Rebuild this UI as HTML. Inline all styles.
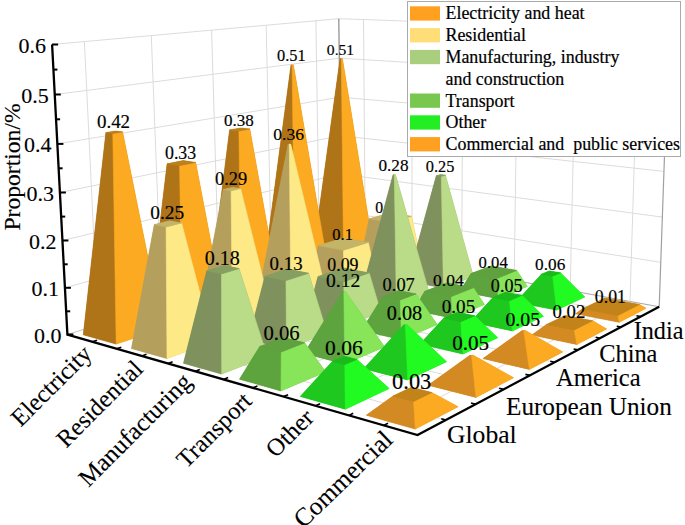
<!DOCTYPE html>
<html><head><meta charset="utf-8"><style>
html,body{margin:0;padding:0;background:#fff;overflow:hidden;}
svg{display:block;}
text{font-family:"Liberation Serif",serif;fill:#000;stroke:#000;stroke-width:0.18px;}
.v{font-size:19px;text-anchor:middle;}
.ax{font-size:22px;stroke-width:0.12px;}
.cat{font-size:24.5px;stroke-width:0.12px;}
.rg{font-size:24.4px;stroke-width:0.12px;}
.lg{font-size:17.9px;stroke-width:0.2px;}
</style></head><body>
<svg width="685" height="525" viewBox="0 0 685 525">
<line x1="64.9" y1="287.8" x2="341.1" y2="211.6" stroke="#dcdcdc" stroke-width="1"/>
<line x1="341.1" y1="211.6" x2="660.7" y2="262.3" stroke="#dcdcdc" stroke-width="1"/>
<line x1="62.4" y1="240.5" x2="340.6" y2="173.9" stroke="#dcdcdc" stroke-width="1"/>
<line x1="340.6" y1="173.9" x2="662.3" y2="217.1" stroke="#dcdcdc" stroke-width="1"/>
<line x1="59.9" y1="192.5" x2="340.2" y2="135.7" stroke="#dcdcdc" stroke-width="1"/>
<line x1="340.2" y1="135.7" x2="663.9" y2="171.4" stroke="#dcdcdc" stroke-width="1"/>
<line x1="57.4" y1="143.9" x2="339.7" y2="97.2" stroke="#dcdcdc" stroke-width="1"/>
<line x1="339.7" y1="97.2" x2="665.6" y2="125.0" stroke="#dcdcdc" stroke-width="1"/>
<line x1="54.8" y1="94.5" x2="339.3" y2="58.2" stroke="#dcdcdc" stroke-width="1"/>
<line x1="339.3" y1="58.2" x2="667.2" y2="78.0" stroke="#dcdcdc" stroke-width="1"/>
<line x1="52.1" y1="44.5" x2="338.8" y2="18.7" stroke="#dcdcdc" stroke-width="1"/>
<line x1="338.8" y1="18.7" x2="668.9" y2="30.3" stroke="#dcdcdc" stroke-width="1"/>
<line x1="98.0" y1="324.9" x2="84.4" y2="41.6" stroke="#dcdcdc" stroke-width="1"/>
<line x1="161.7" y1="305.1" x2="151.3" y2="35.6" stroke="#dcdcdc" stroke-width="1"/>
<line x1="219.2" y1="287.1" x2="211.6" y2="30.1" stroke="#dcdcdc" stroke-width="1"/>
<line x1="271.6" y1="270.7" x2="266.2" y2="25.2" stroke="#dcdcdc" stroke-width="1"/>
<line x1="319.5" y1="255.8" x2="315.9" y2="20.8" stroke="#dcdcdc" stroke-width="1"/>
<line x1="365.4" y1="253.3" x2="363.5" y2="19.6" stroke="#dcdcdc" stroke-width="1"/>
<line x1="412.1" y1="261.8" x2="411.8" y2="21.3" stroke="#dcdcdc" stroke-width="1"/>
<line x1="461.6" y1="270.8" x2="463.1" y2="23.1" stroke="#dcdcdc" stroke-width="1"/>
<line x1="514.2" y1="280.4" x2="517.7" y2="25.0" stroke="#dcdcdc" stroke-width="1"/>
<line x1="570.2" y1="290.6" x2="576.0" y2="27.1" stroke="#dcdcdc" stroke-width="1"/>
<line x1="630.0" y1="301.5" x2="638.4" y2="29.3" stroke="#dcdcdc" stroke-width="1"/>
<line x1="67.4" y1="334.5" x2="341.5" y2="248.9" stroke="#c4c4c4" stroke-width="1"/>
<line x1="341.5" y1="248.9" x2="659.2" y2="306.8" stroke="#a8a8a8" stroke-width="1.1"/>
<line x1="98.0" y1="324.9" x2="445.9" y2="420.1" stroke="#dcdcdc" stroke-width="1"/>
<line x1="161.7" y1="305.1" x2="503.7" y2="389.4" stroke="#dcdcdc" stroke-width="1"/>
<line x1="219.2" y1="287.1" x2="554.7" y2="362.3" stroke="#dcdcdc" stroke-width="1"/>
<line x1="271.6" y1="270.7" x2="600.1" y2="338.2" stroke="#dcdcdc" stroke-width="1"/>
<line x1="319.5" y1="255.8" x2="640.7" y2="316.6" stroke="#dcdcdc" stroke-width="1"/>
<line x1="92.5" y1="341.7" x2="365.4" y2="253.3" stroke="#dcdcdc" stroke-width="1"/>
<line x1="141.9" y1="355.9" x2="412.1" y2="261.8" stroke="#dcdcdc" stroke-width="1"/>
<line x1="195.3" y1="371.3" x2="461.6" y2="270.8" stroke="#dcdcdc" stroke-width="1"/>
<line x1="253.0" y1="387.8" x2="514.2" y2="280.4" stroke="#dcdcdc" stroke-width="1"/>
<line x1="315.6" y1="405.8" x2="570.2" y2="290.6" stroke="#dcdcdc" stroke-width="1"/>
<line x1="383.7" y1="425.4" x2="630.0" y2="301.5" stroke="#dcdcdc" stroke-width="1"/>
<line x1="341.5" y1="248.9" x2="338.8" y2="18.7" stroke="#8a8a8a" stroke-width="1.2"/>
<line x1="659.2" y1="306.8" x2="668.9" y2="30.3" stroke="#a0a0a0" stroke-width="1.2"/>
<polygon points="311.9,262.5 343.7,268.7 374.9,258.3 342.4,58.5 340.1,58.6" fill="#b07418"/><polygon points="311.9,262.5 343.7,268.7 341.3,58.7 340.1,58.6" fill="#b07418" stroke="#b07418" stroke-width="0.6" stroke-linejoin="round"/><polygon points="343.7,268.7 374.9,258.3 342.4,58.5 341.3,58.7" fill="#fcaa22" stroke="#fcaa22" stroke-width="0.6" stroke-linejoin="round"/>
<text x="340.5" y="55.0" class="v" style="font-size:15.62px">0.51</text>
<polygon points="262.7,278.0 294.9,284.9 329.1,273.5 293.4,64.8 291.0,64.9" fill="#b07418"/><polygon points="262.7,278.0 294.9,284.9 292.1,65.0 291.0,64.9" fill="#b07418" stroke="#b07418" stroke-width="0.6" stroke-linejoin="round"/><polygon points="294.9,284.9 329.1,273.5 293.4,64.8 292.1,65.0" fill="#fcaa22" stroke="#fcaa22" stroke-width="0.6" stroke-linejoin="round"/>
<text x="291.4" y="61.1" class="v" style="font-size:16.36px">0.51</text>
<polygon points="358.3,271.5 392.0,278.1 422.7,267.1 411.5,216.2 389.6,212.9 369.2,218.8" fill="#b59f5d"/><polygon points="358.3,271.5 392.0,278.1 391.3,222.3 369.2,218.8" fill="#b59f5d" stroke="#b59f5d" stroke-width="0.6" stroke-linejoin="round"/><polygon points="392.0,278.1 422.7,267.1 411.5,216.2 391.3,222.3" fill="#fdea86" stroke="#fdea86" stroke-width="0.6" stroke-linejoin="round"/><polygon points="369.2,218.8 391.3,222.3 411.5,216.2 389.6,212.9" fill="#c3b467" stroke="#c3b467" stroke-width="0.6" stroke-linejoin="round"/>
<text x="385.1" y="212.9" class="v" style="font-size:15.74px">0.1</text>
<polygon points="208.7,295.1 241.2,302.7 278.8,290.2 249.8,129.0 240.5,128.0 229.6,129.9" fill="#b07418"/><polygon points="208.7,295.1 241.2,302.7 238.9,131.0 229.6,129.9" fill="#b07418" stroke="#b07418" stroke-width="0.6" stroke-linejoin="round"/><polygon points="241.2,302.7 278.8,290.2 249.8,129.0 238.9,131.0" fill="#fcaa22" stroke="#fcaa22" stroke-width="0.6" stroke-linejoin="round"/><polygon points="229.6,129.9 238.9,131.0 249.8,129.0 240.5,128.0" fill="#bd801a" stroke="#bd801a" stroke-width="0.6" stroke-linejoin="round"/>
<text x="238.9" y="125.5" class="v" style="font-size:17.03px">0.38</text>
<polygon points="407.5,281.1 443.4,288.1 473.4,276.4 445.5,175.2 440.5,174.6 436.3,175.7" fill="#7f925d"/><polygon points="407.5,281.1 443.4,288.1 441.3,176.3 436.3,175.7" fill="#7f925d" stroke="#7f925d" stroke-width="0.6" stroke-linejoin="round"/><polygon points="443.4,288.1 473.4,276.4 445.5,175.2 441.3,176.3" fill="#badb88" stroke="#badb88" stroke-width="0.6" stroke-linejoin="round"/><polygon points="436.3,175.7 441.3,176.3 445.5,175.2 440.5,174.6" fill="#869e62" stroke="#869e62" stroke-width="0.6" stroke-linejoin="round"/>
<text x="440.1" y="171.7" class="v" style="font-size:16.35px">0.25</text>
<polygon points="309.7,288.0 344.0,295.2 377.6,283.2 368.3,242.4 343.3,238.1 318.3,245.6" fill="#b59f5d"/><polygon points="309.7,288.0 344.0,295.2 343.5,250.2 318.3,245.6" fill="#b59f5d" stroke="#b59f5d" stroke-width="0.6" stroke-linejoin="round"/><polygon points="344.0,295.2 377.6,283.2 368.3,242.4 343.5,250.2" fill="#fdea86" stroke="#fdea86" stroke-width="0.6" stroke-linejoin="round"/><polygon points="318.3,245.6 343.5,250.2 368.3,242.4 343.3,238.1" fill="#c3b467" stroke="#c3b467" stroke-width="0.6" stroke-linejoin="round"/>
<text x="342.6" y="240.2" class="v" style="font-size:16.46px">0.1</text>
<polygon points="149.2,313.9 182.0,322.3 223.6,308.5 195.7,162.4 183.2,160.6 167.1,163.8" fill="#b07418"/><polygon points="149.2,313.9 182.0,322.3 179.6,165.6 167.1,163.8" fill="#b07418" stroke="#b07418" stroke-width="0.6" stroke-linejoin="round"/><polygon points="182.0,322.3 223.6,308.5 195.7,162.4 179.6,165.6" fill="#fcaa22" stroke="#fcaa22" stroke-width="0.6" stroke-linejoin="round"/><polygon points="167.1,163.8 179.6,165.6 195.7,162.4 183.2,160.6" fill="#bd801a" stroke="#bd801a" stroke-width="0.6" stroke-linejoin="round"/>
<text x="180.6" y="159.0" class="v" style="font-size:17.85px">0.33</text>
<polygon points="460.0,291.3 498.2,298.7 527.3,286.4 516.8,270.4 491.1,265.9 471.0,273.6" fill="#5da33e"/><polygon points="460.0,291.3 498.2,298.7 496.9,278.4 471.0,273.6" fill="#5da33e" stroke="#5da33e" stroke-width="0.6" stroke-linejoin="round"/><polygon points="498.2,298.7 527.3,286.4 516.8,270.4 496.9,278.4" fill="#88e55a" stroke="#88e55a" stroke-width="0.6" stroke-linejoin="round"/><polygon points="471.0,273.6 496.9,278.4 516.8,270.4 491.1,265.9" fill="#5fa03f" stroke="#5fa03f" stroke-width="0.6" stroke-linejoin="round"/>
<text x="493.2" y="268.2" class="v" style="font-size:16.66px">0.04</text>
<polygon points="256.3,306.1 291.0,314.2 328.2,300.9 290.7,144.1 288.1,144.2" fill="#b59f5d"/><polygon points="256.3,306.1 291.0,314.2 289.3,144.3 288.1,144.2" fill="#b59f5d" stroke="#b59f5d" stroke-width="0.6" stroke-linejoin="round"/><polygon points="291.0,314.2 328.2,300.9 290.7,144.1 289.3,144.3" fill="#fdea86" stroke="#fdea86" stroke-width="0.6" stroke-linejoin="round"/>
<text x="288.6" y="140.1" class="v" style="font-size:17.58px">0.36</text>
<polygon points="359.8,298.6 396.4,306.3 429.4,293.5 395.5,174.6 393.1,174.7" fill="#7f925d"/><polygon points="359.8,298.6 396.4,306.3 394.3,174.9 393.1,174.7" fill="#7f925d" stroke="#7f925d" stroke-width="0.6" stroke-linejoin="round"/><polygon points="396.4,306.3 429.4,293.5 395.5,174.6 394.3,174.9" fill="#badb88" stroke="#badb88" stroke-width="0.6" stroke-linejoin="round"/>
<text x="393.5" y="170.7" class="v" style="font-size:17.20px">0.28</text>
<polygon points="83.3,334.8 116.2,344.1 162.4,328.8 122.6,131.9 115.7,131.0 105.9,132.6" fill="#b07418"/><polygon points="83.3,334.8 116.2,344.1 112.8,133.5 105.9,132.6" fill="#b07418" stroke="#b07418" stroke-width="0.6" stroke-linejoin="round"/><polygon points="116.2,344.1 162.4,328.8 122.6,131.9 112.8,133.5" fill="#fcaa22" stroke="#fcaa22" stroke-width="0.6" stroke-linejoin="round"/><polygon points="105.9,132.6 112.8,133.5 122.6,131.9 115.7,131.0" fill="#bd801a" stroke="#bd801a" stroke-width="0.6" stroke-linejoin="round"/>
<text x="113.5" y="127.9" class="v" style="font-size:18.95px">0.42</text>
<polygon points="515.9,302.2 556.7,310.1 584.8,297.0 560.5,272.8 549.3,270.9 541.4,274.2" fill="#1ec81e"/><polygon points="515.9,302.2 556.7,310.1 552.7,276.2 541.4,274.2" fill="#1ec81e" stroke="#1ec81e" stroke-width="0.6" stroke-linejoin="round"/><polygon points="556.7,310.1 584.8,297.0 560.5,272.8 552.7,276.2" fill="#22fb22" stroke="#22fb22" stroke-width="0.6" stroke-linejoin="round"/><polygon points="541.4,274.2 552.7,276.2 560.5,272.8 549.3,270.9" fill="#19ba19" stroke="#19ba19" stroke-width="0.6" stroke-linejoin="round"/>
<text x="550.2" y="269.5" class="v" style="font-size:17.24px">0.06</text>
<polygon points="197.2,326.2 232.4,335.2 273.5,320.4 240.6,188.6 232.6,187.4 223.2,189.5" fill="#b59f5d"/><polygon points="197.2,326.2 232.4,335.2 231.1,190.8 223.2,189.5" fill="#b59f5d" stroke="#b59f5d" stroke-width="0.6" stroke-linejoin="round"/><polygon points="232.4,335.2 273.5,320.4 240.6,188.6 231.1,190.8" fill="#fdea86" stroke="#fdea86" stroke-width="0.6" stroke-linejoin="round"/><polygon points="223.2,189.5 231.1,190.8 240.6,188.6 232.6,187.4" fill="#c3b467" stroke="#c3b467" stroke-width="0.6" stroke-linejoin="round"/>
<text x="231.1" y="184.8" class="v" style="font-size:18.44px">0.29</text>
<polygon points="413.3,309.9 452.4,318.2 484.5,304.5 473.3,287.8 447.1,282.8 424.8,291.3" fill="#5da33e"/><polygon points="413.3,309.9 452.4,318.2 451.4,296.6 424.8,291.3" fill="#5da33e" stroke="#5da33e" stroke-width="0.6" stroke-linejoin="round"/><polygon points="452.4,318.2 484.5,304.5 473.3,287.8 451.4,296.6" fill="#88e55a" stroke="#88e55a" stroke-width="0.6" stroke-linejoin="round"/><polygon points="424.8,291.3 451.4,296.6 473.3,287.8 447.1,282.8" fill="#5fa03f" stroke="#5fa03f" stroke-width="0.6" stroke-linejoin="round"/>
<text x="448.4" y="285.6" class="v" style="font-size:17.51px">0.04</text>
<polygon points="307.1,317.9 344.3,326.5 380.8,312.3 369.2,272.9 343.7,268.0 318.0,276.5" fill="#7f925d"/><polygon points="307.1,317.9 344.3,326.5 343.8,281.7 318.0,276.5" fill="#7f925d" stroke="#7f925d" stroke-width="0.6" stroke-linejoin="round"/><polygon points="344.3,326.5 380.8,312.3 369.2,272.9 343.8,281.7" fill="#badb88" stroke="#badb88" stroke-width="0.6" stroke-linejoin="round"/><polygon points="318.0,276.5 343.8,281.7 369.2,272.9 343.7,268.0" fill="#869e62" stroke="#869e62" stroke-width="0.6" stroke-linejoin="round"/>
<text x="342.9" y="270.6" class="v" style="font-size:17.87px">0.09</text>
<polygon points="575.6,313.8 619.3,322.3 646.1,308.3 639.5,304.4 604.9,298.0 582.6,308.8" fill="#d48a22"/><polygon points="575.6,313.8 619.3,322.3 617.8,315.5 582.6,308.8" fill="#d48a22" stroke="#d48a22" stroke-width="0.6" stroke-linejoin="round"/><polygon points="619.3,322.3 646.1,308.3 639.5,304.4 617.8,315.5" fill="#fbaa22" stroke="#fbaa22" stroke-width="0.6" stroke-linejoin="round"/><polygon points="582.6,308.8 617.8,315.5 639.5,304.4 604.9,298.0" fill="#c1831a" stroke="#c1831a" stroke-width="0.6" stroke-linejoin="round"/>
<text x="610.4" y="302.5" class="v" style="font-size:17.77px">0.01</text>
<polygon points="131.5,348.5 167.0,358.6 212.9,342.1 181.6,223.0 169.8,220.8 154.3,224.6" fill="#b59f5d"/><polygon points="131.5,348.5 167.0,358.6 166.1,226.9 154.3,224.6" fill="#b59f5d" stroke="#b59f5d" stroke-width="0.6" stroke-linejoin="round"/><polygon points="167.0,358.6 212.9,342.1 181.6,223.0 166.1,226.9" fill="#fdea86" stroke="#fdea86" stroke-width="0.6" stroke-linejoin="round"/><polygon points="154.3,224.6 166.1,226.9 181.6,223.0 169.8,220.8" fill="#c3b467" stroke="#c3b467" stroke-width="0.6" stroke-linejoin="round"/>
<text x="167.2" y="219.3" class="v" style="font-size:19.42px">0.25</text>
<polygon points="470.5,322.0 512.4,330.9 543.5,316.3 522.0,295.3 505.5,292.2 492.9,297.5" fill="#1ec81e"/><polygon points="470.5,322.0 512.4,330.9 509.5,300.7 492.9,297.5" fill="#1ec81e" stroke="#1ec81e" stroke-width="0.6" stroke-linejoin="round"/><polygon points="512.4,330.9 543.5,316.3 522.0,295.3 509.5,300.7" fill="#22fb22" stroke="#22fb22" stroke-width="0.6" stroke-linejoin="round"/><polygon points="492.9,297.5 509.5,300.7 522.0,295.3 505.5,292.2" fill="#19ba19" stroke="#19ba19" stroke-width="0.6" stroke-linejoin="round"/>
<text x="506.7" y="292.2" class="v" style="font-size:18.13px">0.05</text>
<polygon points="248.7,339.3 286.5,349.0 327.1,333.2 308.7,273.2 287.8,269.0 265.0,276.2" fill="#7f925d"/><polygon points="248.7,339.3 286.5,349.0 286.0,280.6 265.0,276.2" fill="#7f925d" stroke="#7f925d" stroke-width="0.6" stroke-linejoin="round"/><polygon points="286.5,349.0 327.1,333.2 308.7,273.2 286.0,280.6" fill="#badb88" stroke="#badb88" stroke-width="0.6" stroke-linejoin="round"/><polygon points="265.0,276.2 286.0,280.6 308.7,273.2 287.8,269.0" fill="#869e62" stroke="#869e62" stroke-width="0.6" stroke-linejoin="round"/>
<text x="286.1" y="270.3" class="v" style="font-size:18.90px">0.13</text>
<polygon points="361.6,330.5 401.5,339.8 437.2,324.6 416.1,293.9 398.7,290.4 382.9,296.3" fill="#5da33e"/><polygon points="361.6,330.5 401.5,339.8 400.3,299.9 382.9,296.3" fill="#5da33e" stroke="#5da33e" stroke-width="0.6" stroke-linejoin="round"/><polygon points="401.5,339.8 437.2,324.6 416.1,293.9 400.3,299.9" fill="#88e55a" stroke="#88e55a" stroke-width="0.6" stroke-linejoin="round"/><polygon points="382.9,296.3 400.3,299.9 416.1,293.9 398.7,290.4" fill="#5fa03f" stroke="#5fa03f" stroke-width="0.6" stroke-linejoin="round"/>
<text x="398.7" y="290.8" class="v" style="font-size:18.48px">0.07</text>
<polygon points="531.8,335.0 576.9,344.5 606.7,328.9 592.6,320.7 565.4,315.4 546.6,324.4" fill="#d48a22"/><polygon points="531.8,335.0 576.9,344.5 574.2,330.0 546.6,324.4" fill="#d48a22" stroke="#d48a22" stroke-width="0.6" stroke-linejoin="round"/><polygon points="576.9,344.5 606.7,328.9 592.6,320.7 574.2,330.0" fill="#fbaa22" stroke="#fbaa22" stroke-width="0.6" stroke-linejoin="round"/><polygon points="546.6,324.4 574.2,330.0 592.6,320.7 565.4,315.4" fill="#c1831a" stroke="#c1831a" stroke-width="0.6" stroke-linejoin="round"/>
<text x="568.9" y="318.2" class="v" style="font-size:18.75px">0.02</text>
<polygon points="183.5,363.2 221.7,374.1 267.2,356.4 239.1,268.6 224.5,265.5 206.8,270.7" fill="#7f925d"/><polygon points="183.5,363.2 221.7,374.1 221.5,273.9 206.8,270.7" fill="#7f925d" stroke="#7f925d" stroke-width="0.6" stroke-linejoin="round"/><polygon points="221.7,374.1 267.2,356.4 239.1,268.6 221.5,273.9" fill="#badb88" stroke="#badb88" stroke-width="0.6" stroke-linejoin="round"/><polygon points="206.8,270.7 221.5,273.9 239.1,268.6 224.5,265.5" fill="#869e62" stroke="#869e62" stroke-width="0.6" stroke-linejoin="round"/>
<text x="222.2" y="265.0" class="v" style="font-size:20.07px">0.18</text>
<polygon points="420.0,344.1 463.0,354.0 497.7,337.8 474.7,315.7 457.8,312.2 443.8,318.1" fill="#1ec81e"/><polygon points="420.0,344.1 463.0,354.0 460.8,321.7 443.8,318.1" fill="#1ec81e" stroke="#1ec81e" stroke-width="0.6" stroke-linejoin="round"/><polygon points="463.0,354.0 497.7,337.8 474.7,315.7 460.8,321.7" fill="#22fb22" stroke="#22fb22" stroke-width="0.6" stroke-linejoin="round"/><polygon points="443.8,318.1 460.8,321.7 474.7,315.7 457.8,312.2" fill="#19ba19" stroke="#19ba19" stroke-width="0.6" stroke-linejoin="round"/>
<text x="458.5" y="312.5" class="v" style="font-size:19.14px">0.05</text>
<polygon points="304.0,353.5 344.7,363.9 384.7,346.9 345.3,291.3 342.5,291.5" fill="#5da33e"/><polygon points="304.0,353.5 344.7,363.9 343.9,291.8 342.5,291.5" fill="#5da33e" stroke="#5da33e" stroke-width="0.6" stroke-linejoin="round"/><polygon points="344.7,363.9 384.7,346.9 345.3,291.3 343.9,291.8" fill="#88e55a" stroke="#88e55a" stroke-width="0.6" stroke-linejoin="round"/>
<text x="343.1" y="286.9" class="v" style="font-size:19.60px">0.12</text>
<polygon points="483.0,358.6 529.4,369.4 562.8,351.9 525.0,330.3 522.2,330.5" fill="#d48a22"/><polygon points="483.0,358.6 529.4,369.4 523.8,330.9 522.2,330.5" fill="#d48a22" stroke="#d48a22" stroke-width="0.6" stroke-linejoin="round"/><polygon points="529.4,369.4 562.8,351.9 525.0,330.3 523.8,330.9" fill="#fbaa22" stroke="#fbaa22" stroke-width="0.6" stroke-linejoin="round"/>
<text x="522.8" y="325.9" class="v" style="font-size:19.87px">0.05</text>
<polygon points="239.5,379.2 281.0,390.9 325.8,371.9 304.7,342.8 283.4,337.5 259.8,346.4" fill="#5da33e"/><polygon points="239.5,379.2 281.0,390.9 281.3,351.9 259.8,346.4" fill="#5da33e" stroke="#5da33e" stroke-width="0.6" stroke-linejoin="round"/><polygon points="281.0,390.9 325.8,371.9 304.7,342.8 281.3,351.9" fill="#88e55a" stroke="#88e55a" stroke-width="0.6" stroke-linejoin="round"/><polygon points="259.8,346.4 281.3,351.9 304.7,342.8 283.4,337.5" fill="#5fa03f" stroke="#5fa03f" stroke-width="0.6" stroke-linejoin="round"/>
<text x="281.5" y="339.8" class="v" style="font-size:20.68px">0.06</text>
<polygon points="363.7,368.7 407.7,379.9 446.6,361.7 406.8,324.5 403.9,324.8" fill="#1ec81e"/><polygon points="363.7,368.7 407.7,379.9 405.4,325.1 403.9,324.8" fill="#1ec81e" stroke="#1ec81e" stroke-width="0.6" stroke-linejoin="round"/><polygon points="407.7,379.9 446.6,361.7 406.8,324.5 405.4,325.1" fill="#22fb22" stroke="#22fb22" stroke-width="0.6" stroke-linejoin="round"/>
<text x="404.5" y="320.0" class="v" style="font-size:20.30px">0.08</text>
<polygon points="428.2,385.2 476.0,397.4 513.6,377.7 472.9,355.0 469.9,355.3" fill="#d48a22"/><polygon points="428.2,385.2 476.0,397.4 471.6,355.7 469.9,355.3" fill="#d48a22" stroke="#d48a22" stroke-width="0.6" stroke-linejoin="round"/><polygon points="476.0,397.4 513.6,377.7 472.9,355.0 471.6,355.7" fill="#fbaa22" stroke="#fbaa22" stroke-width="0.6" stroke-linejoin="round"/>
<text x="470.6" y="350.3" class="v" style="font-size:21.08px">0.05</text>
<polygon points="300.3,396.4 345.3,409.2 389.2,388.6 357.0,359.4 344.7,356.3 332.3,361.4" fill="#1ec81e"/><polygon points="300.3,396.4 345.3,409.2 344.8,364.6 332.3,361.4" fill="#1ec81e" stroke="#1ec81e" stroke-width="0.6" stroke-linejoin="round"/><polygon points="345.3,409.2 389.2,388.6 357.0,359.4 344.8,364.6" fill="#22fb22" stroke="#22fb22" stroke-width="0.6" stroke-linejoin="round"/><polygon points="332.3,361.4 344.8,364.6 357.0,359.4 344.7,356.3" fill="#19ba19" stroke="#19ba19" stroke-width="0.6" stroke-linejoin="round"/>
<text x="343.9" y="355.4" class="v" style="font-size:21.54px">0.06</text>
<polygon points="366.3,415.2 415.3,429.1 458.1,406.7 431.8,392.5 411.4,387.2 393.0,396.0" fill="#d48a22"/><polygon points="366.3,415.2 415.3,429.1 413.6,401.5 393.0,396.0" fill="#d48a22" stroke="#d48a22" stroke-width="0.6" stroke-linejoin="round"/><polygon points="415.3,429.1 458.1,406.7 431.8,392.5 413.6,401.5" fill="#fbaa22" stroke="#fbaa22" stroke-width="0.6" stroke-linejoin="round"/><polygon points="393.0,396.0 413.6,401.5 431.8,392.5 411.4,387.2" fill="#c1831a" stroke="#c1831a" stroke-width="0.6" stroke-linejoin="round"/>
<text x="411.7" y="389.1" class="v" style="font-size:22.41px">0.03</text>
<polyline points="52.1,44.5 67.4,334.5 417.5,435.1 659.2,306.8" fill="none" stroke="#000" stroke-width="2.3" stroke-linejoin="miter"/>
<line x1="67.4" y1="334.5" x2="73.4" y2="334.5" stroke="#000" stroke-width="2"/>
<line x1="66.2" y1="311.3" x2="70.2" y2="311.3" stroke="#000" stroke-width="2"/>
<line x1="64.9" y1="287.8" x2="70.9" y2="287.8" stroke="#000" stroke-width="2"/>
<line x1="63.7" y1="264.3" x2="67.7" y2="264.3" stroke="#000" stroke-width="2"/>
<line x1="62.4" y1="240.5" x2="68.4" y2="240.5" stroke="#000" stroke-width="2"/>
<line x1="61.2" y1="216.6" x2="65.2" y2="216.6" stroke="#000" stroke-width="2"/>
<line x1="59.9" y1="192.5" x2="65.9" y2="192.5" stroke="#000" stroke-width="2"/>
<line x1="58.6" y1="168.3" x2="62.6" y2="168.3" stroke="#000" stroke-width="2"/>
<line x1="57.4" y1="143.9" x2="63.4" y2="143.9" stroke="#000" stroke-width="2"/>
<line x1="56.1" y1="119.3" x2="60.1" y2="119.3" stroke="#000" stroke-width="2"/>
<line x1="54.8" y1="94.5" x2="60.8" y2="94.5" stroke="#000" stroke-width="2"/>
<line x1="53.4" y1="69.6" x2="57.4" y2="69.6" stroke="#000" stroke-width="2"/>
<line x1="52.1" y1="44.5" x2="58.1" y2="44.5" stroke="#000" stroke-width="2"/>
<line x1="92.5" y1="341.7" x2="97.0" y2="340.2" stroke="#000" stroke-width="1.6"/>
<line x1="116.7" y1="348.7" x2="121.3" y2="347.2" stroke="#000" stroke-width="1.6"/>
<line x1="141.9" y1="355.9" x2="146.5" y2="354.3" stroke="#000" stroke-width="1.6"/>
<line x1="168.1" y1="363.4" x2="172.6" y2="361.8" stroke="#000" stroke-width="1.6"/>
<line x1="195.3" y1="371.3" x2="199.8" y2="369.6" stroke="#000" stroke-width="1.6"/>
<line x1="223.6" y1="379.4" x2="228.1" y2="377.6" stroke="#000" stroke-width="1.6"/>
<line x1="253.0" y1="387.8" x2="257.4" y2="386.0" stroke="#000" stroke-width="1.6"/>
<line x1="283.6" y1="396.6" x2="288.1" y2="394.7" stroke="#000" stroke-width="1.6"/>
<line x1="315.6" y1="405.8" x2="320.0" y2="403.8" stroke="#000" stroke-width="1.6"/>
<line x1="348.9" y1="415.4" x2="353.2" y2="413.3" stroke="#000" stroke-width="1.6"/>
<line x1="383.7" y1="425.4" x2="388.0" y2="423.3" stroke="#000" stroke-width="1.6"/>
<line x1="445.9" y1="420.1" x2="441.2" y2="418.8" stroke="#000" stroke-width="1.6"/>
<line x1="475.7" y1="404.2" x2="471.0" y2="403.0" stroke="#000" stroke-width="1.6"/>
<line x1="503.7" y1="389.4" x2="499.1" y2="388.3" stroke="#000" stroke-width="1.6"/>
<line x1="530.0" y1="375.4" x2="525.4" y2="374.4" stroke="#000" stroke-width="1.6"/>
<line x1="554.7" y1="362.3" x2="550.2" y2="361.3" stroke="#000" stroke-width="1.6"/>
<line x1="578.0" y1="349.9" x2="573.6" y2="349.0" stroke="#000" stroke-width="1.6"/>
<line x1="600.1" y1="338.2" x2="595.7" y2="337.3" stroke="#000" stroke-width="1.6"/>
<line x1="620.9" y1="327.1" x2="616.7" y2="326.3" stroke="#000" stroke-width="1.6"/>
<line x1="640.7" y1="316.6" x2="636.5" y2="315.8" stroke="#000" stroke-width="1.6"/>
<text x="61.4" y="342.5" class="ax" text-anchor="end">0.0</text>
<text x="58.9" y="295.8" class="ax" text-anchor="end">0.1</text>
<text x="56.4" y="248.5" class="ax" text-anchor="end">0.2</text>
<text x="53.9" y="200.5" class="ax" text-anchor="end">0.3</text>
<text x="51.4" y="151.9" class="ax" text-anchor="end">0.4</text>
<text x="48.8" y="102.5" class="ax" text-anchor="end">0.5</text>
<text x="46.1" y="52.5" class="ax" text-anchor="end">0.6</text>
<text transform="translate(93.1,355.3) rotate(-45)" class="cat" style="font-size:24.6px" text-anchor="end">Electricity</text>
<text transform="translate(144.4,370.4) rotate(-45)" class="cat" style="font-size:24.6px" text-anchor="end">Residential</text>
<text transform="translate(193.0,383.3) rotate(-45)" class="cat" style="font-size:24.9px" text-anchor="end">Manufacturing</text>
<text transform="translate(253.2,402.3) rotate(-45)" class="cat" style="font-size:24.6px" text-anchor="end">Transport</text>
<text transform="translate(315.2,419.1) rotate(-45)" class="cat" style="font-size:24.6px" text-anchor="end">Other</text>
<text transform="translate(394.2,441.4) rotate(-44)" class="cat" style="font-size:25.5px" text-anchor="end">Commercial</text>
<text x="447.0" y="442.8" class="rg" style="font-size:25.6px">Global</text>
<text x="506.0" y="414.8" class="rg" style="font-size:25.2px">European Union</text>
<text x="556" y="385.8" class="rg" style="font-size:24.6px">America</text>
<text x="599.2" y="361.9" class="rg" style="font-size:24.4px">China</text>
<text x="633.7" y="338.6" class="rg" style="font-size:24.2px">India</text>
<text transform="translate(20.3,167) rotate(-90)" class="rg" style="font-size:23.6px" text-anchor="middle">Proportion/%</text>
<rect x="407.5" y="1.5" width="273" height="155" fill="#fff" stroke="#aaa" stroke-width="1"/>
<rect x="410" y="6.3" width="30" height="14.3" fill="rgb(255, 160, 32)"/>
<text x="445.5" y="19.3" class="lg" xml:space="preserve">Electricity and heat</text>
<rect x="410" y="28.1" width="30" height="14.3" fill="rgb(255, 221, 119)"/>
<text x="445.5" y="41.1" class="lg" xml:space="preserve">Residential</text>
<rect x="410" y="49.9" width="30" height="14.3" fill="rgb(169, 207, 126)"/>
<text x="445.5" y="62.9" class="lg" xml:space="preserve">Manufacturing, industry</text>
<text x="445.5" y="84.7" class="lg" xml:space="preserve">and construction</text>
<rect x="410" y="93.5" width="30" height="14.3" fill="rgb(120, 200, 80)"/>
<text x="445.5" y="106.5" class="lg" xml:space="preserve">Transport</text>
<rect x="410" y="115.3" width="30" height="14.3" fill="rgb(34, 238, 34)"/>
<text x="445.5" y="128.3" class="lg" xml:space="preserve">Other</text>
<rect x="410" y="137.1" width="30" height="14.3" fill="rgb(255, 160, 32)"/>
<text x="445.5" y="150.1" class="lg" xml:space="preserve">Commercial and  public services</text>
</svg></body></html>
